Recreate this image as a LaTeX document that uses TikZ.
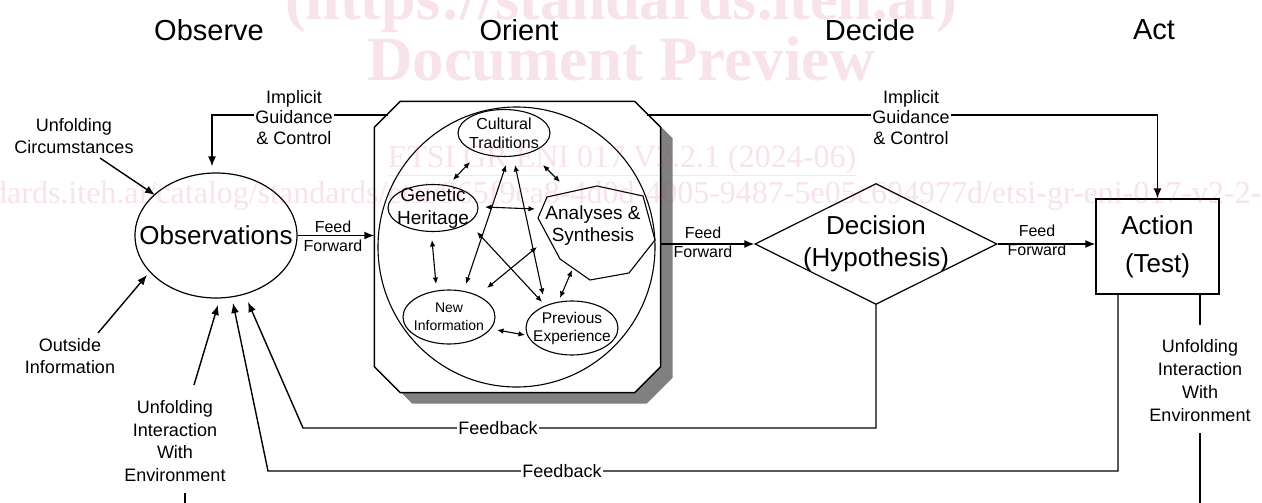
\documentclass[tikz,border=0pt]{standalone}
\usepackage{fontspec}
\setmainfont{Liberation Sans}
\newfontfamily\wmfont{Liberation Serif}
\usetikzlibrary{shapes.geometric,arrows.meta}
\definecolor{shade}{RGB}{128,128,128}
\definecolor{wmc}{RGB}{215,60,110}
\newcommand{\fsz}[2]{\fontsize{#1}{#2}\selectfont}
\newcommand{\octpath}[3]{\path[#1] ([shift={(#2,{26+#3})}]orient.north west) -- ([shift={({26+#2},#3)}]orient.north west) -- ([shift={({-26+#2},#3)}]orient.north east) -- ([shift={(#2,{26+#3})}]orient.north east) -- ([shift={(#2,{-26+#3})}]orient.south east) -- ([shift={({-26+#2},#3)}]orient.south east) -- ([shift={({26+#2},#3)}]orient.south west) -- ([shift={(#2,{-26+#3})}]orient.south west) -- cycle;}
\begin{document}
\begin{tikzpicture}[x=1pt,y=-1pt,line width=1.4pt,
 arr/.style={-{Latex[length=10pt,width=8pt]}},
 dar/.style={{Latex[length=6.5pt,width=5.5pt]}-{Latex[length=6.5pt,width=5.5pt]},line width=1.1pt},
 head/.style={font=\fsz{29}{34}},
 lab/.style={font=\fsz{18}{21.5},align=center,inner sep=1.5pt},
 ff/.style={font=\fsz{16}{18},inner sep=0pt},
 big/.style={font=\fsz{26}{32},align=center},
 inner/.style={draw,ellipse,line width=1.1pt,inner sep=0pt},
 wm/.style={text=wmc,text opacity=0.14,inner sep=0pt}]
\useasboundingbox (0,0) rectangle (1262,503);
\clip (0,0) rectangle (1262,503);
\fill[white] (0,0) rectangle (1262,503);

% headers
\node[head] (hO) at (209,30) {Observe};
\node[head] (hOr) at (519,30) {Orient};
\node[head] (hD) at (870,30) {Decide};
\node[head] (hA) at (1154,30) {Act};

% orient box
\node[minimum width=285pt,minimum height=290pt,inner sep=0pt] (orient) at (517.5,247) {};
\octpath{fill=shade}{12}{11}
\octpath{draw,fill=white,line width=1.5pt}{0}{0}
\node[draw,ellipse,minimum width=277pt,minimum height=280pt,inner sep=0pt,line width=1.1pt] (sphere) at (516.5,247) {};

\node[inner,minimum width=92pt,minimum height=47pt,label={[font=\fsz{16}{19},align=center]center:{Cultural\\Traditions}}] (cult) at (504,133) {};
\node[inner,minimum width=90pt,minimum height=47pt,label={[font=\fsz{19}{23},align=center]center:{Genetic\\Heritage}}] (gen) at (433,208) {};
\node[inner,minimum width=92pt,minimum height=54pt,label={[font=\fsz{14}{18},align=center]center:{New\\Information}}] (new) at (449,317) {};
\node[inner,minimum width=92pt,minimum height=54pt,label={[font=\fsz{15.5}{18},align=center]center:{Previous\\Experience}}] (prev) at (572,328) {};
\coordinate (ana) at (596,233);
\draw[line width=1.1pt] ([shift={(-58,-15)}]ana) -- ([shift={(-49,-36)}]ana) -- ([shift={(1,-47)}]ana) -- ([shift={(47,-37)}]ana) -- ([shift={(59,7)}]ana) -- ([shift={(33,40)}]ana) -- ([shift={(-6,47)}]ana) -- ([shift={(-36,26)}]ana) -- cycle;
\node[font=\fsz{19}{22},align=center] (anaT) at (593,226) {Analyses \&\\Synthesis};

\draw[dar] ([shift={(-34,29)}]cult.center) -- ([shift={(20,-28)}]gen.center);
\draw[dar] ([shift={(39,32)}]cult.center) -- ([shift={(-36,-51)}]ana);
\draw[dar] ([shift={(2,32)}]cult.center) -- ([shift={(17,-33)}]new.center);
\draw[dar] ([shift={(11,32)}]cult.center) -- ([shift={(-29,-33)}]prev.center);
\draw[dar] ([shift={(52,-1)}]gen.center) -- ([shift={(-61,-24)}]ana);
\draw[dar] ([shift={(-1,32)}]gen.center) -- ([shift={(-13,-33)}]new.center);
\draw[dar] ([shift={(44,24)}]gen.center) -- ([shift={(-30,-26)}]prev.center);
\draw[dar] ([shift={(-59,14)}]ana) -- ([shift={(38,-29)}]new.center);
\draw[dar] ([shift={(-12,-30)}]prev.center) -- ([shift={(-24,37)}]ana);
\draw[dar] ([shift={(48,13)}]new.center) -- ([shift={(-47,7)}]prev.center);

% main nodes
\node[draw,ellipse,minimum width=162pt,minimum height=125pt,inner sep=0pt,line width=1.2pt,label={[big]center:Observations}] (obs) at (216,235.5) {};
\node[draw,diamond,minimum width=242pt,minimum height=121pt,inner sep=0pt,line width=1.2pt,label={[big]center:{Decision\\(Hypothesis)}}] (dec) at (876,244) {};
\node[draw,rectangle,minimum width=123pt,minimum height=95pt,inner sep=0pt,line width=1.2pt,big,font=\fsz{26}{38}] (act) at (1157.5,246.5) {Action\\(Test)};

% side labels
\node[lab] (uc) at (74,136) {Unfolding\\Circumstances};
\node[lab] (oi) at (70,356) {Outside\\Information};
\node[lab,font=\fsz{18}{22.5}] (uiL) at (175,441) {Unfolding\\Interaction\\With\\Environment};
\node[lab,font=\fsz{18}{23}] (uiR) at (1200,381) {Unfolding\\Interaction\\With\\Environment};

% feed forward
\draw[arr] (obs.east) -- (obs.east -| orient.west);
\draw[arr] (orient.east |- dec.west) -- (dec.west);
\draw[arr] (dec.east) -- (dec.east -| act.west);
\node[ff] (f1a) at (333,227) {Feed};
\node[ff] (f1b) at (333,246) {Forward};
\node[ff] (f2a) at (703,233) {Feed};
\node[ff] (f2b) at (703,252) {Forward};
\node[ff] (f3a) at (1037,231) {Feed};
\node[ff] (f3b) at (1037,250) {Forward};

% implicit guidance
\coordinate (igLa) at (388,115);
\coordinate (igRa) at (647,115);
\draw[arr] (igLa) -| ([shift={(-4,-6)}]obs.north);
\draw[arr] (igRa) -| (act.north);
\node[lab,fill=white,font=\fsz{18}{20.5}] (igL) at (294,117.5) {Implicit\\Guidance\\\& Control};
\node[lab,fill=white,font=\fsz{18}{20.5}] (igR) at (911,117.5) {Implicit\\Guidance\\\& Control};

% inputs
\draw[arr] ([shift={(26,22)}]uc.center) -- ([shift={(-61,-40.5)}]obs.center);
\draw[arr] ([shift={(28,-23)}]oi.center) -- ([shift={(-69,39.5)}]obs.center);
\draw[arr] ([shift={(19,-56)}]uiL.center) -- ([shift={(2,69.5)}]obs.center);
\draw ([shift={(10,52)}]uiL.center) -- ([shift={(10,64)}]uiL.center);
\draw (act.south -| uiR.center) -- ([shift={(0,-56)}]uiR.center);
\draw ([shift={(0,52)}]uiR.center) -- ([shift={(0,122)}]uiR.center);

% feedback
\coordinate (fb1) at (303,428);
\coordinate (fb2) at (268,471);
\draw[arr] (dec.south) |- (fb1) -- ([shift={(32,66.5)}]obs.center);
\draw[arr] ([shift={(-39.5,0)}]act.south) |- (fb2) -- ([shift={(17,67.5)}]obs.center);
\node[lab,fill=white] (fbl1) at (498,428) {Feedback};
\node[lab,fill=white] (fbl2) at (562,471) {Feedback};

% watermark
\node[wm,font=\wmfont\bfseries\fsz{62}{62},anchor=base] (wm1) at (621,20) {(https://standards.iteh.ai)};
\node[wm,font=\wmfont\bfseries\fsz{63}{63},anchor=base] (wm2) at (621,81) {Document Preview};
\node[wm,font=\wmfont\fsz{32}{32},anchor=base] (wm3) at (622,167) {\underline{ETSI GR ENI 017 V2.2.1 (2024-06)}};
\node[wm,font=\wmfont\fsz{32}{32},anchor=base west] (wm4) at (-150,203) {https://standards.iteh.ai/catalog/standards/etsi/965f9ca8-4d0d-4005-9487-5e05c694977d/etsi-gr-eni-017-v2-2-1-2024-06};
\end{tikzpicture}
\end{document}
